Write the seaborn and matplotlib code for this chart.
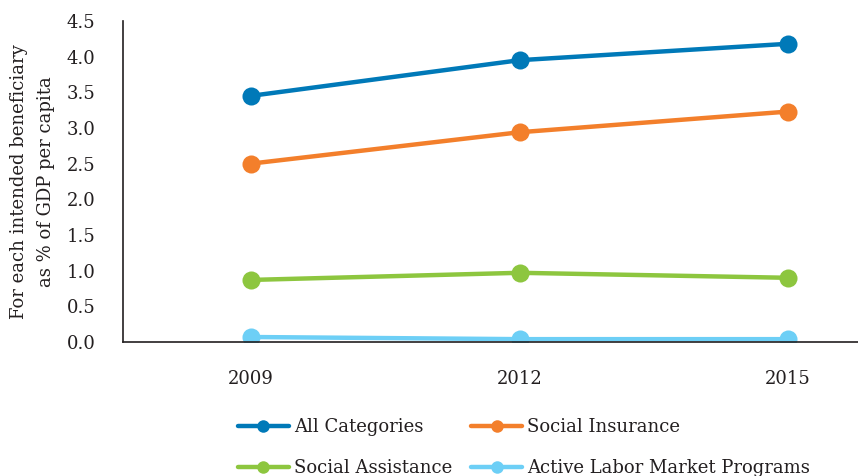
import matplotlib
matplotlib.use("Agg")
import matplotlib.pyplot as plt
import seaborn as sns
import pandas as pd

years = ["2009", "2012", "2015"]
all_categories = [3.45, 3.95, 4.18]
social_insurance = [2.50, 2.94, 3.23]
social_assistance = [0.87, 0.97, 0.90]
active_labor = [0.07, 0.04, 0.04]

series_names = ["All Categories", "Social Insurance", "Social Assistance",
                "Active Labor Market Programs"]
series_values = [all_categories, social_insurance, social_assistance, active_labor]
colors = ["#0079B8", "#F37F2B", "#8DC63F", "#6DCFF6"]

rows = []
for name, vals in zip(series_names, series_values):
    for y, v in zip(years, vals):
        rows.append({"Year": y, "Value": v, "Series": name})
df = pd.DataFrame(rows)

sns.set_style("white")
plt.rcParams["font.family"] = ["DejaVu Serif", "Liberation Serif"]
text_color = "#231F20"

fig = plt.figure(figsize=(8.58, 4.76), dpi=100)
ax = fig.add_axes([0.1434, 0.2815, 0.8566, 0.6745])

sns.lineplot(data=df, x="Year", y="Value", hue="Series", hue_order=series_names,
             palette=colors, marker="o", markersize=13, markeredgewidth=0,
             linewidth=3.2, ax=ax, legend=True)

ax.set_ylim(0, 4.5)
ax.set_xlim(-0.476, 2.26)
ax.set_yticks([0, 0.5, 1, 1.5, 2, 2.5, 3, 3.5, 4, 4.5])
ax.set_yticklabels([f"{t:.1f}" for t in ax.get_yticks()])
ax.set_xlabel("")
ax.set_ylabel("For each intended beneficiary\nas % of GDP per capita",
              fontsize=13, color=text_color, labelpad=8, linespacing=1.65)

for s in ["top", "right"]:
    ax.spines[s].set_visible(False)
for s in ["left", "bottom"]:
    ax.spines[s].set_color(text_color)
    ax.spines[s].set_linewidth(1.2)
ax.tick_params(axis="y", direction="out", length=6, width=1.2, color=text_color,
               labelsize=13, labelcolor=text_color, pad=14)
ax.tick_params(axis="x", length=0, labelsize=13, labelcolor=text_color, pad=20)

handles, labels = ax.get_legend_handles_labels()
ax.get_legend().remove()
# legend fills column-wise; reorder so entries read across rows
order = [0, 2, 1, 3]
leg = fig.legend([handles[i] for i in order], [labels[i] for i in order],
                 loc="upper left", bbox_to_anchor=(0.267, 0.140),
                 ncol=2, frameon=False, fontsize=13, handlelength=2.8,
                 handletextpad=0.3, columnspacing=1.05, labelspacing=1.25,
                 borderpad=0, labelcolor=text_color)
for ln in leg.get_lines():
    ln.set_markersize(9)
    ln.set_linewidth(3.2)

fig.savefig("out.png", dpi=100)
